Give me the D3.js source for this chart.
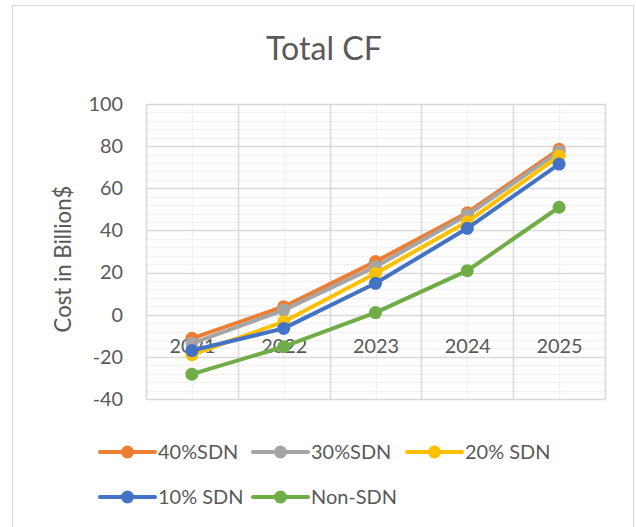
<!DOCTYPE html>
<html>
<head>
<meta charset="utf-8">
<script src="https://cdn.jsdelivr.net/npm/d3@7"></script>
<style>
  html, body { margin: 0; padding: 0; background: #fff; }
  svg { display: block; }
  text { font-family: Lato, "Open Sans", sans-serif; fill: #595959; }
</style>
</head>
<body>
<svg id="chart" width="636" height="527"></svg>
<script>
// Total cash flow by year, in billions of dollars
const years = ["2021", "2022", "2023", "2024", "2025"];
const sdn40 = [-11.2, 3.8, 25.2, 48.4, 78.5];
const sdn30 = [-13.6, 2.2, 22.8, 47.3, 77.4];
const sdn20 = [-19, -3.3, 19.6, 44.1, 75.3];
const sdn10 = [-17, -6.5, 14.9, 41, 71.5];
const nonSdn = [-28.2, -15.2, 1, 20.9, 51];
const seriesNames = ["40%SDN", "30%SDN", "20% SDN", "10% SDN", "Non-SDN"];
const seriesColors = ["#ED7D31", "#A5A5A5", "#FFC000", "#4472C4", "#70AD47"];
const yTicks = [-40, -20, 0, 20, 40, 60, 80, 100];

const series = [sdn40, sdn30, sdn20, sdn10, nonSdn].map((vals, i) => ({
  name: seriesNames[i], color: seriesColors[i], values: vals
}));

const svg = d3.select("#chart");

// size a group of labels so that a sample string spans the wanted width
function fitSize(sample, width, base) {
  const t = svg.append("text").style("font-size", base + "px").text(sample);
  const w = t.node().getComputedTextLength();
  t.remove();
  return base * width / w;
}
const tickSize = fitSize("2021", 46, 20);
const axisTitleSize = fitSize("Cost in Billion$", 147, 20);
const legendSize = fitSize("Non-SDN", 86, 20);
const titleSize = fitSize("Total CF", 116, 30);

// chart frame
svg.append("rect")
  .attr("x", 12.5).attr("y", 5.5).attr("width", 621).attr("height", 540)
  .attr("fill", "#fff").attr("stroke", "#D9D9D9").attr("stroke-width", 1);

const plot = { left: 146, right: 605, top: 104, bottom: 399 };

const xBand = d3.scaleBand().domain(years).range([plot.left, plot.right]);
const x = d3.scalePoint().domain(years).range([plot.left, plot.right]).padding(0.5);
const y = d3.scaleLinear().domain([-40, 100]).range([plot.bottom, plot.top]);

const grid = svg.append("g");

// minor horizontal gridlines every 4
const minorY = d3.range(-40, 100.01, 4).filter(v => v % 20 !== 0);
grid.selectAll(".hminor").data(minorY).join("line")
  .attr("x1", plot.left).attr("x2", plot.right)
  .attr("y1", d => Math.round(y(d)) + 0.5).attr("y2", d => Math.round(y(d)) + 0.5)
  .attr("stroke", "#F2F2F2").attr("stroke-width", 1.5);

// minor vertical gridlines at category centres
grid.selectAll(".vminor").data(years).join("line")
  .attr("x1", d => Math.round(x(d)) + 0.5).attr("x2", d => Math.round(x(d)) + 0.5)
  .attr("y1", plot.top).attr("y2", plot.bottom)
  .attr("stroke", "#F2F2F2").attr("stroke-width", 1.5);

// major vertical gridlines at category boundaries
const bounds = years.map(d => xBand(d)).concat([plot.right]);
grid.selectAll(".vmajor").data(bounds).join("line")
  .attr("x1", d => Math.round(d) + 0.5).attr("x2", d => Math.round(d) + 0.5)
  .attr("y1", plot.top).attr("y2", plot.bottom)
  .attr("stroke", "#D9D9D9").attr("stroke-width", 1.5);

// major horizontal gridlines every 20
grid.selectAll(".hmajor").data(yTicks).join("line")
  .attr("x1", plot.left).attr("x2", plot.right)
  .attr("y1", d => Math.round(y(d)) + 0.5).attr("y2", d => Math.round(y(d)) + 0.5)
  .attr("stroke", "#D9D9D9").attr("stroke-width", 1.5);

// y axis labels (plain hyphen for negatives)
const yAxis = d3.axisLeft(y).tickValues(yTicks).tickFormat(d => String(d))
  .tickSize(0).tickPadding(23);
const gy = svg.append("g").attr("transform", `translate(${plot.left},0)`).call(yAxis);
gy.select(".domain").remove();
gy.selectAll("text").style("font-size", tickSize + "px").attr("fill", "#595959")
  .style("font-family", "Lato, sans-serif");

// category labels sit along the zero line
const xAxis = d3.axisBottom(x).tickSize(0).tickPadding(24);
const gx = svg.append("g").attr("transform", `translate(0,${y(0)})`).call(xAxis);
gx.select(".domain").remove();
gx.selectAll("text").style("font-size", tickSize + "px").attr("fill", "#595959")
  .style("font-family", "Lato, sans-serif");

// series lines and markers
const line = d3.line().x((d, i) => x(years[i])).y(d => y(d));
const sg = svg.append("g").selectAll("g").data(series).join("g");
sg.append("path")
  .attr("d", d => line(d.values))
  .attr("fill", "none").attr("stroke", d => d.color)
  .attr("stroke-width", 4).attr("stroke-linejoin", "round").attr("stroke-linecap", "round");
sg.selectAll("circle").data(d => d.values.map(v => ({ v, color: d.color }))).join("circle")
  .attr("cx", (d, i) => x(years[i])).attr("cy", d => y(d.v))
  .attr("r", 6.5).attr("fill", d => d.color);

// title
svg.append("text").attr("x", 324).attr("y", 60).attr("text-anchor", "middle")
  .style("font-size", titleSize + "px").text("Total CF");

// y axis title
svg.append("text")
  .attr("transform", `translate(71,259) rotate(-90)`)
  .attr("text-anchor", "middle").style("font-size", axisTitleSize + "px").text("Cost in Billion$");

// legend
const legendPos = [[100, 452], [253, 452], [407, 452], [100, 497], [253, 497]];
const lg = svg.append("g").selectAll("g").data(series).join("g")
  .attr("transform", (d, i) => `translate(${legendPos[i][0]},${legendPos[i][1]})`);
lg.append("line").attr("x1", 0).attr("x2", 55).attr("y1", 0).attr("y2", 0)
  .attr("stroke", d => d.color).attr("stroke-width", 4).attr("stroke-linecap", "round");
lg.append("circle").attr("cx", 27.5).attr("cy", 0).attr("r", 6.5).attr("fill", d => d.color);
lg.append("text").attr("x", 58).attr("y", 0).attr("dy", "0.35em")
  .style("font-size", legendSize + "px").text(d => d.name);
</script>
</body>
</html>
